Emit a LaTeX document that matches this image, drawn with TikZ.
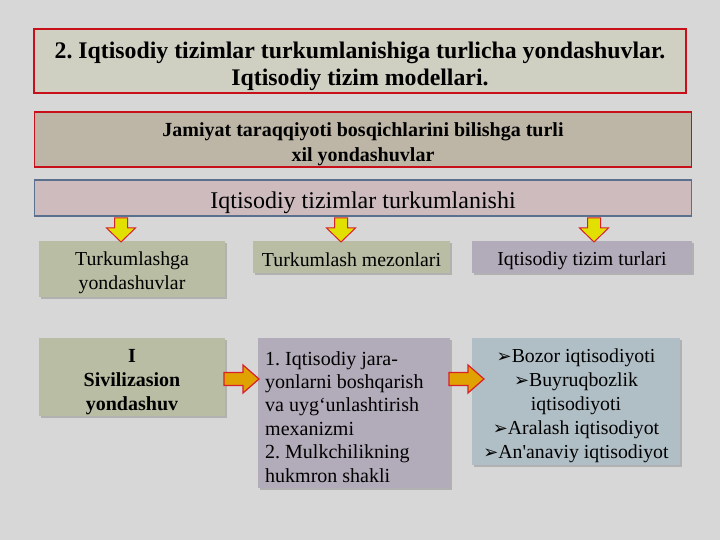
\documentclass[tikz,border=0pt]{standalone}
\usepackage{fontspec}
\setmainfont{Liberation Serif}[Ligatures=TeXOff]
\newfontfamily\dejavu{DejaVu Sans}
\usetikzlibrary{shadows}
\frenchspacing
\definecolor{bgc}{HTML}{D7D7D7}
\definecolor{redb}{HTML}{C8101A}
\definecolor{blueb}{HTML}{5B6F8E}
\definecolor{titlefill}{HTML}{CFCFC2}
\definecolor{tanfill}{HTML}{BDB6A6}
\definecolor{pinkfill}{HTML}{CDBBBE}
\definecolor{olivefill}{HTML}{B9BDA3}
\definecolor{lavfill}{HTML}{B2ABB9}
\definecolor{bluefill}{HTML}{B0BEC5}
\definecolor{ylw}{HTML}{E2E000}
\definecolor{orng}{HTML}{E0A200}
\definecolor{arred}{HTML}{D8202A}
\newcommand{\bul}{{\dejavu\fontsize{18}{18}\selectfont ➢}}
\begin{document}
\frenchspacing
\begin{tikzpicture}[x=1pt,y=-1pt,
  box/.style={rectangle,inner sep=0pt},
  txt/.style={inner sep=0pt,align=center},
  redbox/.style={box,draw=redb,line width=1.8pt},
  lowbox/.style={box,drop shadow={shadow xshift=1.5pt,shadow yshift=-2pt,fill=black!45,opacity=.5}},
  darr/.pic={\draw[fill=ylw,draw=arred,line width=1pt] (-6.5,0) -- (-6.5,10) -- (-14.5,10) -- (0,24) -- (14.5,10) -- (6.5,10) -- (6.5,0) -- cycle;},
  rarr/.pic={\draw[fill=orng,draw=arred,line width=1.2pt] (0,-6.5) -- (19,-6.5) -- (19,-14) -- (35,0) -- (19,14) -- (19,6.5) -- (0,6.5) -- cycle;}
]
\fill[bgc] (0,0) rectangle (720,540);
\useasboundingbox (0,0) rectangle (720,540);

\node[redbox,fill=titlefill,minimum width=652pt,minimum height=64pt] (title) at (360,61) {};
\node[txt,font=\bfseries\fontsize{23.8}{27}\selectfont] (titletext) at ([yshift=-5pt]title.center)
  {2. Iqtisodiy tizimlar turkumlanishiga turlicha yondashuvlar.\\Iqtisodiy tizim modellari.};

\node[redbox,fill=tanfill,minimum width=657pt,minimum height=55pt] (jam) at (363,139.5) {};
\node[txt,font=\bfseries\fontsize{20}{24.5}\selectfont] (jamtext) at ([yshift=-4.5pt]jam.center)
  {Jamiyat taraqqiyoti bosqichlarini bilishga turli\\xil yondashuvlar};

\node[box,draw=blueb,line width=1.8pt,fill=pinkfill,minimum width=657pt,minimum height=36pt] (turk) at (363,198) {};
\node[txt,font=\fontsize{24}{24}\selectfont] (turktext) at ([yshift=-5pt]turk.center)
  {Iqtisodiy tizimlar turkumlanishi};

\node[lowbox,fill=olivefill,minimum width=186pt,minimum height=56pt] (ta) at (132,269) {};
\node[txt,font=\fontsize{19.8}{24.5}\selectfont] (tatext) at ([yshift=-4pt]ta.center)
  {Turkumlashga\\yondashuvlar};
\node[lowbox,fill=olivefill,minimum width=197pt,minimum height=32pt] (tb) at (351.5,257) {};
\node[txt,font=\fontsize{19.8}{24}\selectfont] (tbtext) at ([yshift=-2.5pt]tb.center)
  {Turkumlash mezonlari};
\node[lowbox,fill=lavfill,minimum width=220pt,minimum height=32pt] (tc) at (582,257) {};
\node[txt,font=\fontsize{19.8}{24}\selectfont] (tctext) at ([yshift=-3.5pt]tc.center)
  {Iqtisodiy tizim turlari};

\pic at (121,218) {darr};
\pic at (341,218) {darr};
\pic at (594,218) {darr};

\node[lowbox,fill=olivefill,minimum width=186pt,minimum height=78pt] (sd) at (132,377) {};
\node[txt,font=\bfseries\fontsize{20}{24}\selectfont] (sdtext) at ([yshift=-5pt]sd.center)
  {I\\Sivilizasion\\yondashuv};

\node[lowbox,fill=lavfill,minimum width=192pt,minimum height=150pt] (me) at (354,413) {};
\node[anchor=north west,inner sep=0pt,align=left,font=\fontsize{20}{23.4}\selectfont] (metext) at (265,351)
  {1. Iqtisodiy jara-\\yonlarni boshqarish\\va uyg‘unlashtirish\\mexanizmi\\2. Mulkchilikning\\hukmron shakli};

\node[lowbox,fill=bluefill,minimum width=208pt,minimum height=127pt] (ty) at (576,401.5) {};
\node[anchor=north,inner sep=0pt,align=center,font=\fontsize{19.8}{23.8}\selectfont] (tytext) at (576,349)
  {\bul Bozor iqtisodiyoti\\\bul Buyruqbozlik\\iqtisodiyoti\\\bul Aralash iqtisodiyot\\\bul An'anaviy iqtisodiyot};

\pic at (224,379) {rarr};
\pic at (449,379) {rarr};
\end{tikzpicture}
\end{document}
